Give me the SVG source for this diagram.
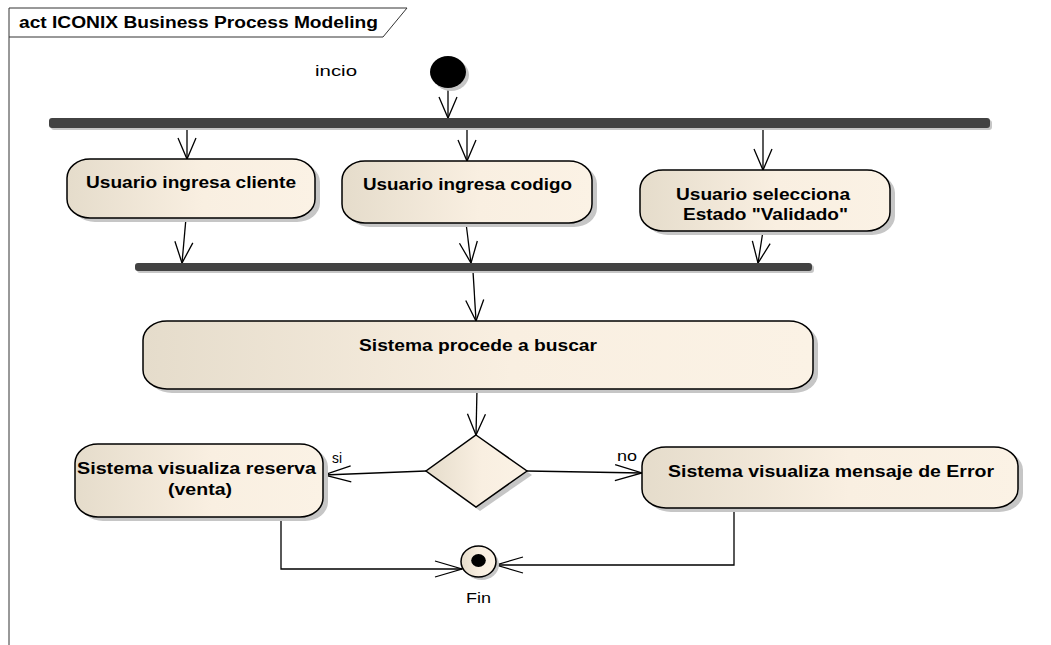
<svg xmlns="http://www.w3.org/2000/svg" width="1051" height="645" viewBox="0 0 1051 645">
<style>
.frame{fill:none;stroke:#333;stroke-width:1}
.title{font-family:"Liberation Sans",Arial,sans-serif;font-weight:bold;font-size:16px;fill:#000}
.act{fill:url(#g);stroke:#000;stroke-width:1.5}
.shadow{fill:#c6c6c6}
.bar{fill:#424242}
.lbl{font-family:"Liberation Sans",Arial,sans-serif;font-weight:bold;font-size:16px;fill:#000}
.txt{font-family:"Liberation Sans",Arial,sans-serif;font-size:15px;fill:#000}
.edge{fill:none;stroke:#000;stroke-width:1.3}
.ev{marker-end:url(#aV)}
.eh{marker-end:url(#aH)}
</style>
<defs>
<linearGradient id="g" x1="0" y1="0" x2="1" y2="0">
<stop offset="0" stop-color="#e5dccb"/>
<stop offset="0.55" stop-color="#f9efe1"/>
<stop offset="1" stop-color="#fbf2e5"/>
</linearGradient>
<marker id="aV" markerUnits="userSpaceOnUse" markerWidth="24" markerHeight="20" refX="21" refY="9" orient="auto" overflow="visible">
<path d="M0,0 L21,9 L0,18" fill="none" stroke="#000" stroke-width="1.3"/>
</marker>
<marker id="aH" markerUnits="userSpaceOnUse" markerWidth="30" markerHeight="18" refX="27" refY="8" orient="auto" overflow="visible">
<path d="M0,0 L27,8 L0,16" fill="none" stroke="#000" stroke-width="1.3"/>
</marker>
</defs>
<rect width="1051" height="645" fill="#fff"/>

<g id="frame">
<path class="frame" d="M9,645 V8 H407 L383,37 H9"/>
<text class="title" x="19" y="28" textLength="359" lengthAdjust="spacingAndGlyphs">act ICONIX Business Process Modeling</text>
</g>

<g id="connectors">
<path class="edge ev" d="M448,88 V118"/>
<path class="edge ev" d="M187,128 V159"/>
<path class="edge ev" d="M467,128 V161"/>
<path class="edge ev" d="M763,128 V170"/>
<path class="edge ev" d="M186,218 L182,263"/>
<path class="edge ev" d="M466,223 L471,263"/>
<path class="edge ev" d="M763,231 L758,263"/>
<path class="edge ev" d="M473,271 L476,321"/>
<path class="edge ev" d="M477,389 L476,435"/>
<path class="edge eh" d="M426,471 L324,475"/>
<path class="edge eh" d="M527,471 L642,473"/>
<path class="edge eh" d="M281,517 V569 H462"/>
<path class="edge eh" d="M734,508 V565 H496"/>
<text class="txt" x="332" y="463" textLength="10" lengthAdjust="spacingAndGlyphs">si</text>
<text class="txt" x="617" y="461" textLength="20" lengthAdjust="spacingAndGlyphs">no</text>
</g>

<g id="start">
<ellipse cx="451" cy="75" rx="18" ry="16" class="shadow"/>
<ellipse cx="448" cy="72" rx="18" ry="16" fill="#000"/>
<text class="txt" x="315" y="76" font-size="16" textLength="42" lengthAdjust="spacingAndGlyphs">incio</text>
</g>

<g id="fork1">
<rect x="51" y="120" width="941" height="10" rx="3" class="shadow"/>
<rect x="49" y="118" width="941" height="10" rx="3" class="bar"/>
</g>

<g id="n1">
<rect x="72" y="163" width="248" height="59" rx="23" ry="19" class="shadow"/>
<rect x="67" y="159" width="248" height="59" rx="23" ry="19" class="act"/>
<text class="lbl" x="86" y="188" textLength="210" lengthAdjust="spacingAndGlyphs">Usuario ingresa cliente</text>
</g>

<g id="n2">
<rect x="347" y="165" width="250" height="62" rx="23" ry="19" class="shadow"/>
<rect x="342" y="161" width="250" height="62" rx="23" ry="19" class="act"/>
<text class="lbl" x="363" y="190" textLength="209" lengthAdjust="spacingAndGlyphs">Usuario ingresa codigo</text>
</g>

<g id="n3">
<rect x="645" y="174" width="250" height="61" rx="23" ry="19" class="shadow"/>
<rect x="640" y="170" width="250" height="61" rx="23" ry="19" class="act"/>
<text class="lbl" x="676" y="200" textLength="174" lengthAdjust="spacingAndGlyphs">Usuario selecciona</text>
<text class="lbl" x="683" y="220" textLength="165" lengthAdjust="spacingAndGlyphs">Estado "Validado"</text>
</g>

<g id="join1">
<rect x="137" y="265" width="677" height="8" rx="3" class="shadow"/>
<rect x="135" y="263" width="677" height="8" rx="3" class="bar"/>
</g>

<g id="n4">
<rect x="148" y="325" width="670" height="68" rx="24" ry="19" class="shadow"/>
<rect x="143" y="321" width="670" height="68" rx="24" ry="19" class="act"/>
<text class="lbl" x="359" y="351" textLength="238" lengthAdjust="spacingAndGlyphs">Sistema procede a buscar</text>
</g>

<g id="decision">
<path d="M480,439 L532,475 L480,511 L430,475 Z" class="shadow"/>
<path d="M476,435 L527,471 L476,507 L426,471 Z" class="act"/>
</g>

<g id="n5">
<rect x="80" y="448" width="248" height="73" rx="23" ry="19" class="shadow"/>
<rect x="75" y="444" width="248" height="73" rx="23" ry="19" class="act"/>
<text class="lbl" x="77" y="474" textLength="239" lengthAdjust="spacingAndGlyphs">Sistema visualiza reserva</text>
<text class="lbl" x="168" y="495" textLength="64" lengthAdjust="spacingAndGlyphs">(venta)</text>
</g>

<g id="n6">
<rect x="647" y="451" width="376" height="61" rx="24" ry="19" class="shadow"/>
<rect x="642" y="447" width="376" height="61" rx="24" ry="19" class="act"/>
<text class="lbl" x="668" y="477" textLength="326" lengthAdjust="spacingAndGlyphs">Sistema visualiza mensaje de Error</text>
</g>

<g id="final">
<ellipse cx="481.5" cy="564.5" rx="17.5" ry="15.5" class="shadow"/>
<ellipse cx="478.5" cy="561.5" rx="17.5" ry="15.5" class="act"/>
<ellipse cx="478.5" cy="560.5" rx="7.3" ry="6.5" fill="#000"/>
<text class="txt" x="466" y="603" textLength="25" lengthAdjust="spacingAndGlyphs">Fin</text>
</g>
</svg>
